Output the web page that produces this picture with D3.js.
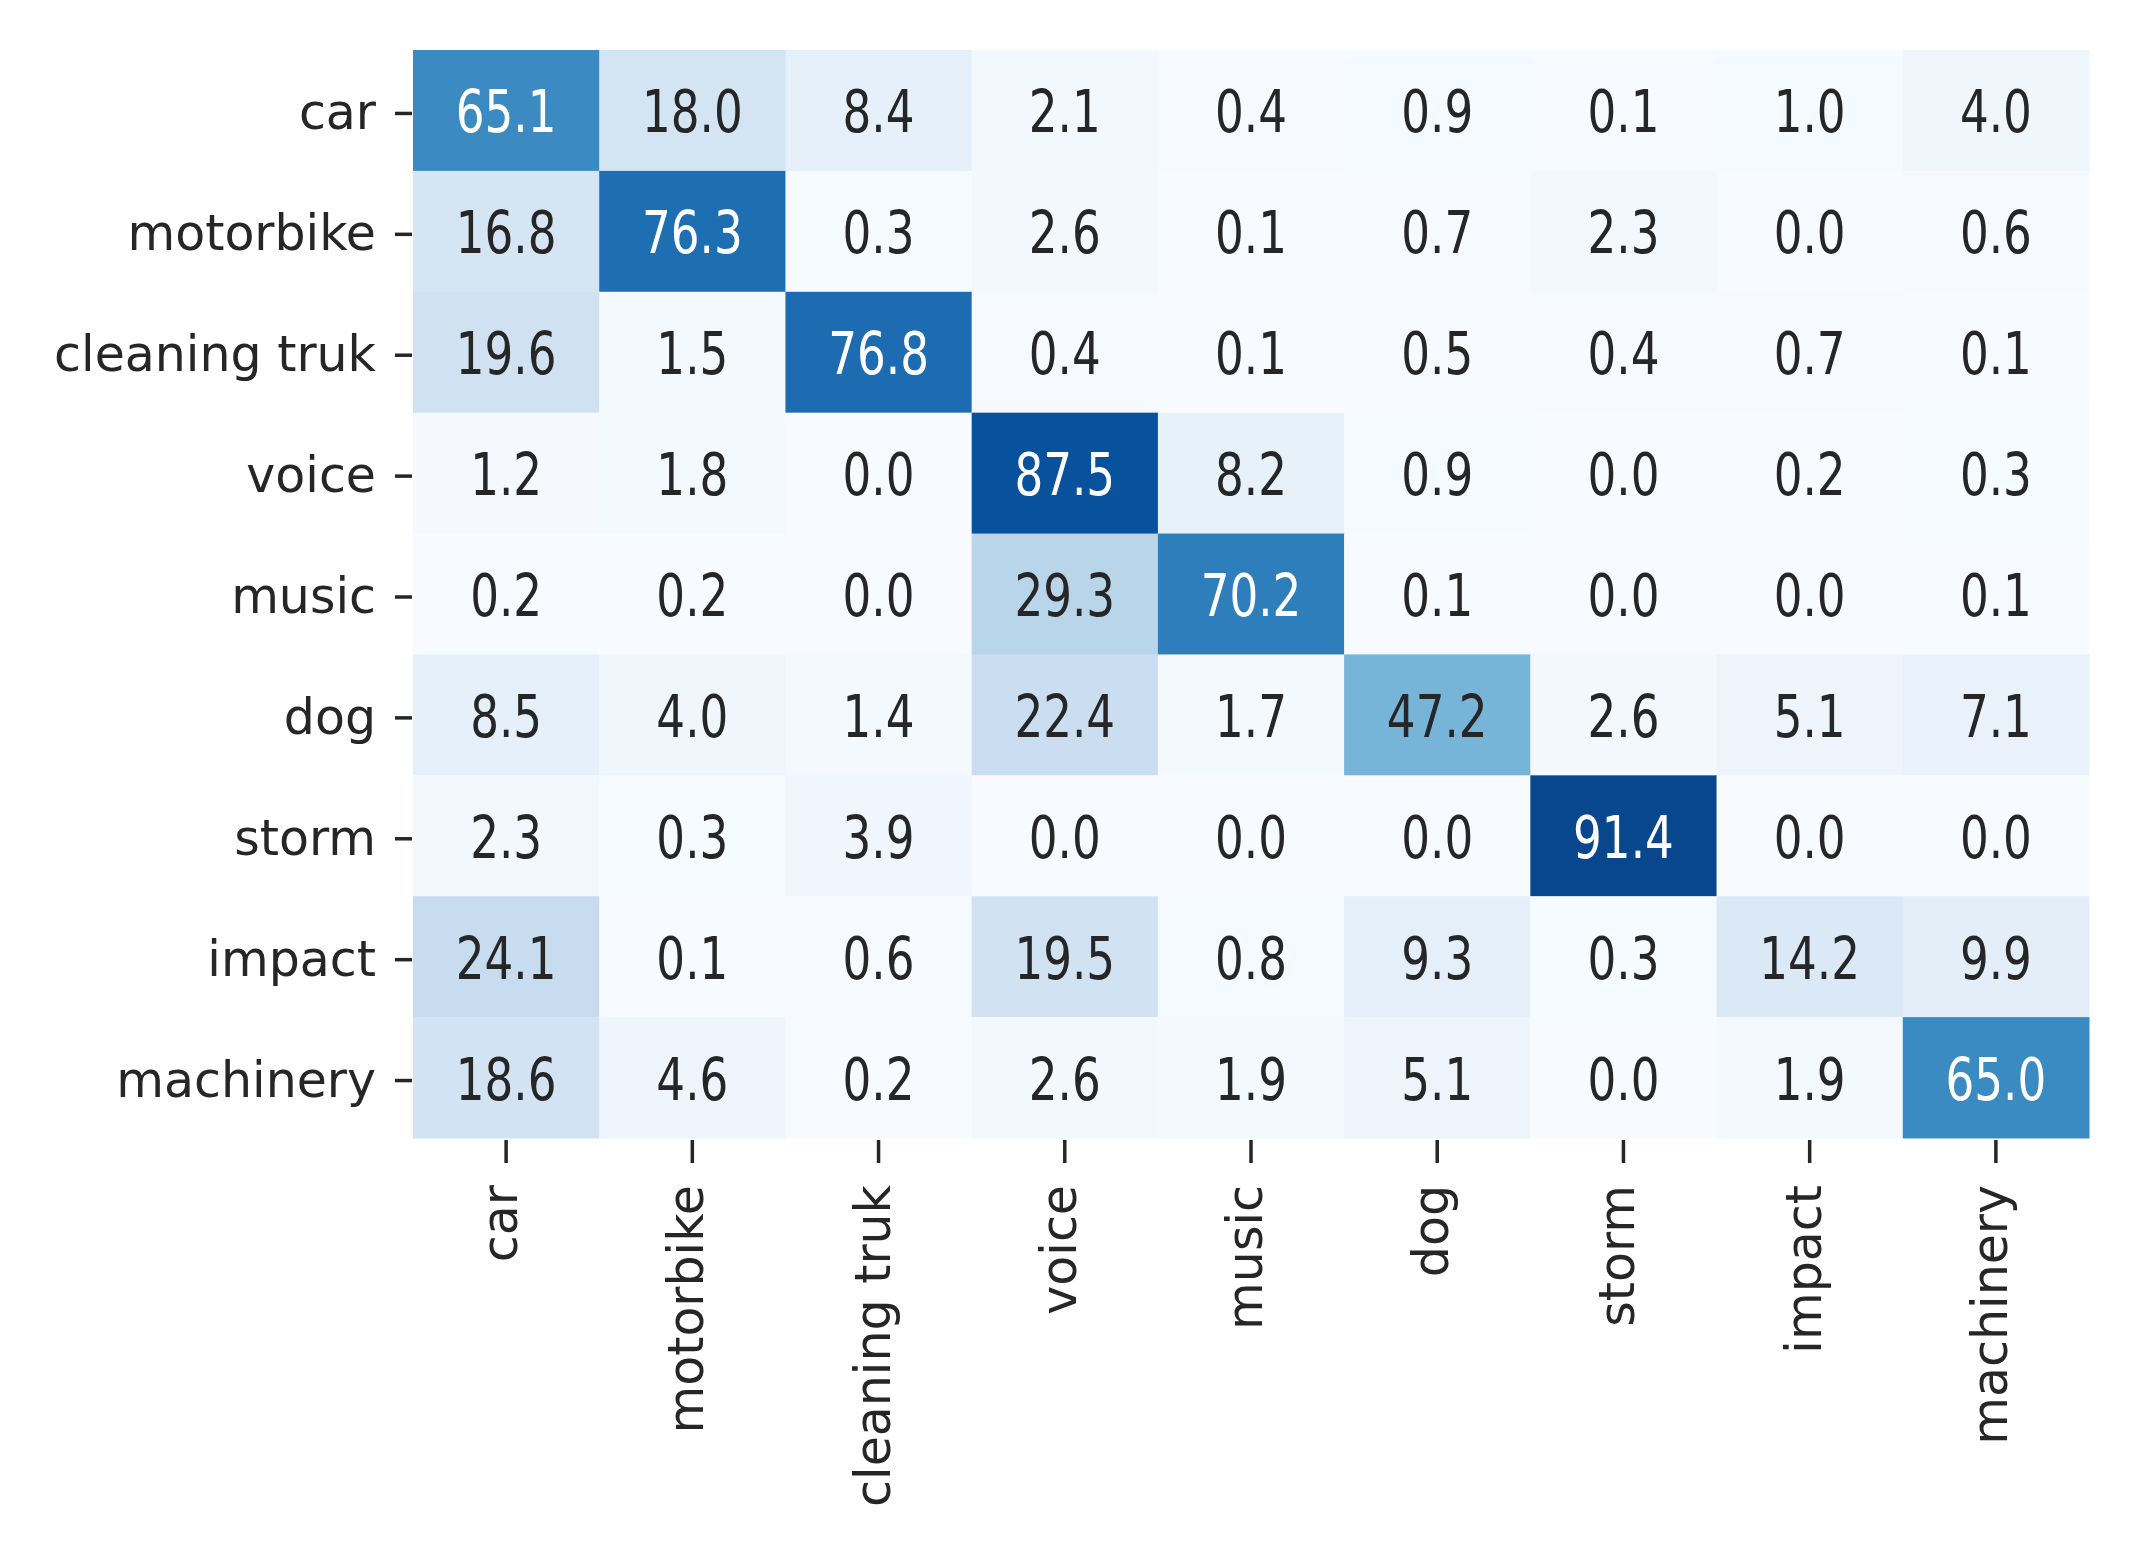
<!DOCTYPE html>
<html>
<head>
<meta charset="utf-8">
<script src="https://cdn.jsdelivr.net/npm/d3@7"></script>
<style>
  html, body { margin: 0; padding: 0; background: #ffffff; }
  svg { display: block; }
</style>
</head>
<body>
<script>
// ---- data ----
const trueLabels = ["car", "motorbike", "cleaning truk", "voice", "music", "dog", "storm", "impact", "machinery"];
const predLabels = ["car", "motorbike", "cleaning truk", "voice", "music", "dog", "storm", "impact", "machinery"];
const rowCar        = [65.1, 18.0, 8.4, 2.1, 0.4, 0.9, 0.1, 1.0, 4.0];
const rowMotorbike  = [16.8, 76.3, 0.3, 2.6, 0.1, 0.7, 2.3, 0.0, 0.6];
const rowCleaning   = [19.6, 1.5, 76.8, 0.4, 0.1, 0.5, 0.4, 0.7, 0.1];
const rowVoice      = [1.2, 1.8, 0.0, 87.5, 8.2, 0.9, 0.0, 0.2, 0.3];
const rowMusic      = [0.2, 0.2, 0.0, 29.3, 70.2, 0.1, 0.0, 0.0, 0.1];
const rowDog        = [8.5, 4.0, 1.4, 22.4, 1.7, 47.2, 2.6, 5.1, 7.1];
const rowStorm      = [2.3, 0.3, 3.9, 0.0, 0.0, 0.0, 91.4, 0.0, 0.0];
const rowImpact     = [24.1, 0.1, 0.6, 19.5, 0.8, 9.3, 0.3, 14.2, 9.9];
const rowMachinery  = [18.6, 4.6, 0.2, 2.6, 1.9, 5.1, 0.0, 1.9, 65.0];
const matrix = [rowCar, rowMotorbike, rowCleaning, rowVoice, rowMusic, rowDog, rowStorm, rowImpact, rowMachinery];
const colorDomain = [0, 100];
// matplotlib "Blues" colormap stops
const bluesStops = ["#f7fbff", "#deebf7", "#c6dbef", "#9ecae1", "#6baed6", "#4292c6", "#2171b5", "#08519c", "#08306b"];

// ---- layout ----
const W = 2129, H = 1546;
const mLeft = 413, mRight = 2089, mTop = 50, mBottom = 1138;
const textDark = "#262626";

const svg = d3.select("body").append("svg")
  .attr("width", W).attr("height", H)
  .attr("viewBox", `0 0 ${W} ${H}`);
svg.append("rect").attr("width", W).attr("height", H).attr("fill", "#fff");

const x = d3.scaleBand().domain(predLabels).range([mLeft, mRight]).padding(0);
const y = d3.scaleBand().domain(trueLabels).range([mTop, mBottom]).padding(0);

const stopDomain = bluesStops.map((_, i) => colorDomain[0] + (colorDomain[1] - colorDomain[0]) * i / (bluesStops.length - 1));
const color = d3.scaleLinear().domain(stopDomain).range(bluesStops).interpolate(d3.interpolateRgb).clamp(true);

const cells = [];
matrix.forEach((row, ri) => row.forEach((v, ci) => cells.push({ r: trueLabels[ri], c: predLabels[ci], v })));

function lum(c) {
  const rgb = d3.rgb(c);
  const f = u => { u /= 255; return u <= 0.03928 ? u / 12.92 : Math.pow((u + 0.055) / 1.055, 2.4); };
  return 0.2126 * f(rgb.r) + 0.7152 * f(rgb.g) + 0.0722 * f(rgb.b);
}

const g = svg.append("g");
g.selectAll("rect.cell").data(cells).join("rect")
  .attr("class", "cell")
  .attr("x", d => x(d.c))
  .attr("y", d => y(d.r))
  .attr("width", x.bandwidth() + 0.5)
  .attr("height", y.bandwidth() + 0.5)
  .attr("fill", d => color(d.v));

// annotations
const annFs = 58, annSx = 0.78;
g.selectAll("text.ann").data(cells).join("text")
  .attr("class", "ann")
  .attr("transform", d => `translate(${x(d.c) + x.bandwidth() / 2},${y(d.r) + y.bandwidth() / 2 + 22}) scale(${annSx},1)`)
  .attr("text-anchor", "middle")
  .attr("font-family", "DejaVu Sans")
  .attr("font-size", annFs)
  .attr("fill", d => lum(color(d.v)) < 0.408 ? "#ffffff" : textDark)
  .text(d => d.v.toFixed(1));

// axes
const labFs = 49;
const yAxis = d3.axisLeft(y).tickSize(17).tickPadding(19);
const yg = svg.append("g").attr("transform", `translate(${mLeft - 1},0)`).call(yAxis);
yg.select(".domain").remove();
yg.selectAll(".tick line").attr("stroke", textDark).attr("stroke-width", 3.5).attr("transform", "translate(0,3)");
yg.selectAll(".tick text")
  .attr("font-family", "DejaVu Sans").attr("font-size", labFs).attr("fill", textDark)
  .attr("dy", null).attr("y", 19);

const xAxis = d3.axisBottom(x).tickSize(23).tickPadding(0);
const xg = svg.append("g").attr("transform", `translate(0,${mBottom + 2})`).call(xAxis);
xg.select(".domain").remove();
xg.selectAll(".tick line").attr("stroke", textDark).attr("stroke-width", 3.5);
xg.selectAll(".tick text")
  .attr("font-family", "DejaVu Sans").attr("font-size", labFs).attr("fill", textDark)
  .attr("text-anchor", "end")
  .attr("dy", null).attr("y", null)
  .attr("transform", "translate(11,45) rotate(-90)");
</script>
</body>
</html>
